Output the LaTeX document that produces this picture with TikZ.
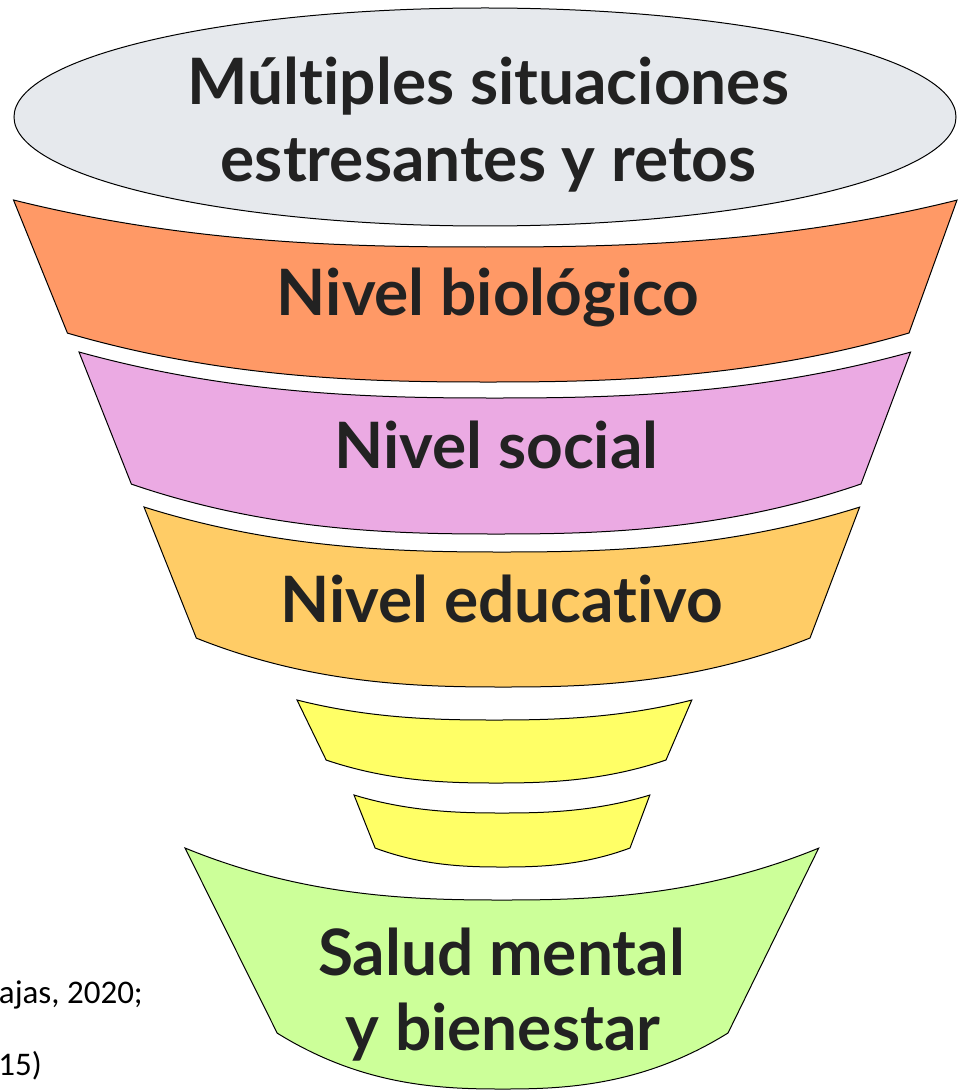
\documentclass[tikz,border=0pt]{standalone}
\usepackage{fontspec}
\setmainfont{Lato}[RawFeature={-liga}]
\newfontfamily\sidefont{Carlito}
\definecolor{txt}{HTML}{222222}
\definecolor{cgrey}{HTML}{E6E9ED}
\definecolor{corange}{HTML}{FF9966}
\definecolor{cpink}{HTML}{EBAAE3}
\definecolor{cgold}{HTML}{FFCC66}
\definecolor{cyellow}{HTML}{FFFF66}
\definecolor{cgreen}{HTML}{CCFF99}
% curve profile: y = sag*(1-|u|^2.5)
\newcommand\funnelband[9]{%
  \filldraw[bandline,fill=#9]
    plot[domain=-1:1,samples=101] ({#1+#3*\x},{#2+#4*(1-\x*\x*sqrt(abs(\x)))})
    -- plot[domain=1:-1,samples=101] ({#5+#7*\x},{#6+#8*(1-\x*\x*sqrt(abs(\x)))})
    -- cycle;}
\tikzset{
  bandline/.style={draw=black,line width=1pt,line join=miter},
  bigtext/.style={font=\fontsize{64}{77}\selectfont\bfseries,text=txt,anchor=base,inner sep=0pt},
  sidetext/.style={font=\sidefont\fontsize{33}{40}\selectfont,text=black,anchor=base east,inner sep=0pt}
}
\begin{document}
\begin{tikzpicture}[x=1pt,y=-1pt]
\useasboundingbox (0,0) rectangle (958,1091);
% top ellipse
\filldraw[bandline,fill=cgrey] (485,117) ellipse [x radius=471pt, y radius=109pt];
% bands
\funnelband{485.5}{200}{472}{47}{488}{333}{421}{49}{corange}
\funnelband{495}{352}{416}{46}{496}{484}{365}{50}{cpink}
\funnelband{502}{507}{358}{45}{503}{638}{307}{49}{cgold}
\funnelband{494.5}{700}{197.5}{20}{496}{760}{170}{23}{cyellow}
\funnelband{502}{795}{148}{18}{502.5}{848}{127.5}{19}{cyellow}
\funnelband{502}{848}{317}{52}{502.5}{1033}{225.5}{56}{cgreen}
% texts
\node[bigtext] (t1) at (488.5,105) {Múltiples situaciones};
\node[bigtext] (t2) at (488.5,182) {estresantes y retos};
\node[bigtext] (bio) at (488,315) {Nivel biológico};
\node[bigtext] (soc) at (496.5,468) {Nivel social};
\node[bigtext] (edu) at (502,622) {Nivel educativo};
\node[bigtext] (sal) at (501.5,975) {Salud mental};
\node[bigtext] (bien) at (503,1050) {y bienestar};
\node[sidetext] (s1) at (143,1003) {ajas, 2020;};
\node[sidetext] (s2) at (42,1075) {15)};
\end{tikzpicture}
\end{document}
